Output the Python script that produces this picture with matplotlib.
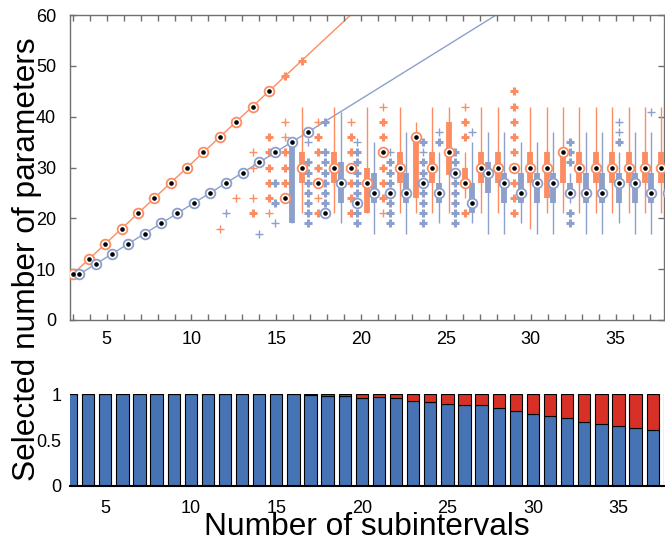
import numpy as np
import matplotlib
matplotlib.use('Agg')
import matplotlib.pyplot as plt

plt.rcParams['font.family'] = ['Liberation Sans', 'DejaVu Sans']

N = np.nan

# Данни: брой подинтервали (групи на boxplot-а)
subintervals = list(range(3, 40))

# Оранжева серия: медиана, квартили и мустаци
orange_med = [9, 12, 15, 18, 21, 24, 27, 30, 33, 36, 39, 42, 45, 24,
              30, 27, 30, 30, 27, 33, 30, 36, 30, 33, 27, 30, 30,
              30, 30, 30, 33, 30, 30, 30, 30, 30, 30]
orange_q1 = [N, N, N, N, N, N, N, N, N, N, N, N, N, N,
             27, N, 27, N, 21, N, 27, 24, 27, 28.5, 27, 27, 27,
             N, 27, 24, 27, 27, 27, 27, 27, 27, 27]
orange_q3 = [N, N, N, N, N, N, N, N, N, N, N, N, N, N,
             33, N, 33, N, 30, N, 33, 36, 33, 39, 30, 33, 33,
             N, 33, 33, 33, 33, 33, 33, 33, 33, 33]
orange_lo = [N, N, N, N, N, N, N, N, N, N, N, N, N, N,
             21, N, 21, N, 21, N, 21, 21, 21, 21, 24, 21, 21,
             N, 18, 21, 21, 21, 21, 21, 21, 21, 21]
orange_hi = [N, N, N, N, N, N, N, N, N, N, N, N, N, N,
             42, N, 42, N, 42, N, 42, 39, 42, 42, 33, 42, 42,
             N, 42, 42, 42, 42, 42, 42, 42, 42, 42]
orange_out = {14: [21], 15: [36, 33, 30, 27, 24], 16: [48, 33, 30, 27],
              17: [51], 18: [36, 33, 30, 21], 20: [36, 33, 27, 24, 21],
              22: [39, 36, 30, 27, 24], 27: [39, 36, 21],
              30: [45, 42, 39, 36, 33, 27, 24, 21]}
orange_out_faint = {12: [18], 13: [24], 14: [33, 30, 24], 15: [21],
                    16: [39, 36], 18: [39, 24], 20: [39], 22: [42, 21], 27: [42]}

# Синя серия
blue_med = [9, 11, 13, 15, 17, 19, 21, 23, 25, 27, 29, 31, 33, 35,
            37, 21, 27, 23, 25, 25, 25, 27, 25, 29, 23, 29, 27,
            25, 27, 27, 25, 25, 25, 27, 27, 25, 25]
blue_q1 = [N, N, N, N, N, N, N, N, N, N, N, N, N, 19,
           N, N, 23, N, 23, N, 23, N, 23, N, 21, 25, 23,
           23, 23, 23, 25, 23, 23, 23, 23, 23, 23]
blue_q3 = [N, N, N, N, N, N, N, N, N, N, N, N, N, 35,
           N, N, 31, N, 29, N, 29, N, 27, N, 27, 31, 29,
           29, 29, 29, 27, 29, 29, 29, 29, 29, 29]
blue_lo = [N, N, N, N, N, N, N, N, N, N, N, N, N, 19,
           N, N, 19, N, 17, N, 17, N, 19, N, 19, 17, 17,
           19, 17, 17, 23, 17, 17, 19, 17, 17, 17]
blue_hi = [N, N, N, N, N, N, N, N, N, N, N, N, N, 35,
           N, N, 41, N, 35, N, 37, N, 33, N, 35, 37, 37,
           35, 35, 37, 29, 37, 37, 33, 37, 37, 37]
blue_out = {15: [27, 23], 17: [31, 29, 27, 25, 23, 21, 19],
            18: [39, 33, 31, 29, 27, 25, 23], 20: [33, 31, 29, 27, 25, 21, 19],
            22: [31, 29, 27, 23, 21, 19], 24: [35, 31, 29, 25, 23, 21, 19],
            25: [35], 26: [33, 31, 27, 25, 23, 21, 19], 33: [35, 33, 31, 21, 19],
            36: [35]}
blue_out_faint = {12: [21], 14: [17], 15: [19], 17: [35], 20: [35], 22: [33],
                  24: [33], 25: [37], 27: [37], 36: [39, 37], 38: [41]}

# Максимален брой параметри (правите линии)
orange_max_n = list(range(3, 22))
orange_max = [9, 12, 15, 18, 21, 24, 27, 30, 33, 36, 39, 42, 45, 48, 51, 54, 57, 60, 63]
blue_max_n = list(range(3, 30))
blue_max = [9, 11, 13, 15, 17, 19, 21, 23, 25, 27, 29, 31, 33, 35, 37, 39, 41, 43,
            45, 47, 49, 51, 53, 55, 57, 59, 61]

# Долна графика: дял на избраните модели
bar_n = list(range(3, 39))
bar_blue = [1, 1, 1, 1, 1, 1, 1, 1, 1, 1, 1, 1, 1, 1, 0.995, 0.98, 0.985, 0.958,
            0.967, 0.955, 0.931, 0.92, 0.898, 0.887, 0.88, 0.855, 0.818, 0.782,
            0.764, 0.742, 0.695, 0.676, 0.655, 0.629, 0.607, 0.564]
bar_red = [0, 0, 0, 0, 0, 0, 0, 0, 0, 0, 0, 0, 0, 0, 0.005, 0.02, 0.015, 0.042,
           0.033, 0.045, 0.069, 0.08, 0.102, 0.113, 0.12, 0.145, 0.182, 0.218,
           0.236, 0.258, 0.305, 0.324, 0.345, 0.371, 0.393, 0.436]

c_orange = '#fc8d62'
c_blue = '#8da0cb'
c_bar_blue = '#4673b4'
c_bar_red = '#d73027'

# позиции на кутиите (групите са леко сгъстени спрямо оста)
box_start = 3.0
box_step = 0.9635
pair_offset = 0.389


def pos_of(n, shift=0.0):
    return box_start + (np.asarray(n) - 3) * box_step + shift


fig = plt.figure(figsize=(6.65, 5.44), dpi=100)
ax = fig.add_axes([70 / 665, 1 - 320 / 544, 594 / 665, 305 / 544])
ax2 = fig.add_axes([70 / 665, 1 - 486 / 544, 594 / 665, 91.7 / 544])

ax.plot(pos_of(orange_max_n), orange_max, color=c_orange, lw=1, zorder=1)
ax.plot(pos_of(blue_max_n, pair_offset), blue_max, color=c_blue, lw=1, zorder=1)


def draw_series(shift, color, med, q1, q3, lo, hi, out, out_faint):
    x = pos_of(subintervals, shift)
    ax.vlines(x, lo, hi, color=color, lw=1, zorder=2)
    ax.vlines(x, q1, q3, color=color, lw=4.2, zorder=3)
    for n, vals in out.items():
        ax.plot([pos_of(n, shift)] * len(vals), vals, '+', color=color,
                ms=6, mew=2.2, zorder=3)
    for n, vals in out_faint.items():
        ax.plot([pos_of(n, shift)] * len(vals), vals, '+', color=color,
                ms=5.5, mew=1, zorder=3)
    ax.plot(x, med, 'o', mfc='white', mec=color, ms=7, mew=1.3, zorder=4)
    ax.plot(x, med, 'o', color='black', ms=2.3, zorder=5)


draw_series(0.0, c_orange, orange_med, orange_q1, orange_q3, orange_lo,
            orange_hi, orange_out, orange_out_faint)
draw_series(pair_offset, c_blue, blue_med, blue_q1, blue_q3, blue_lo,
            blue_hi, blue_out, blue_out_faint)

ax.set_xlim(2.84, 37.85)
ax.set_ylim(0, 60)
ax.set_yticks(range(0, 61, 10))
ax.set_xticks(range(3, 38))
ax.set_xticklabels([str(t) if t % 5 == 0 else '' for t in range(3, 38)])
ax.tick_params(direction='in', top=True, right=True, length=4, width=1,
               color='#707070', labelsize=13, pad=8)
ax.tick_params(axis='y', pad=10)
for sp in ax.spines.values():
    sp.set_color('#707070')
    sp.set_linewidth(1)

# долна графика
ax2.bar(bar_n, bar_blue, width=0.72, color=c_bar_blue, edgecolor='black', lw=0.8)
ax2.bar(bar_n, bar_red, width=0.72, bottom=bar_blue, color=c_bar_red,
        edgecolor='black', lw=0.8)
ax2.set_xlim(2.94, 37.66)
ax2.set_ylim(0, 1)
ax2.set_yticks([0, 0.5, 1])
ax2.set_yticklabels(['0', '0.5', '1'])
ax2.set_xticks(range(5, 36, 5))
ax2.tick_params(length=0, labelsize=13, pad=10)
ax2.tick_params(axis='y', pad=6)
for side in ['left', 'top', 'right']:
    ax2.spines[side].set_visible(False)
ax2.spines['bottom'].set_linewidth(1.5)

fig.text(0.041, 0.524, 'Selected number of parameters', rotation=90,
         ha='center', va='center', fontsize=22.8)
fig.text(0.552, 0.031, 'Number of subintervals', ha='center', va='center',
         fontsize=22.8)

fig.savefig('out.png', dpi=100)
